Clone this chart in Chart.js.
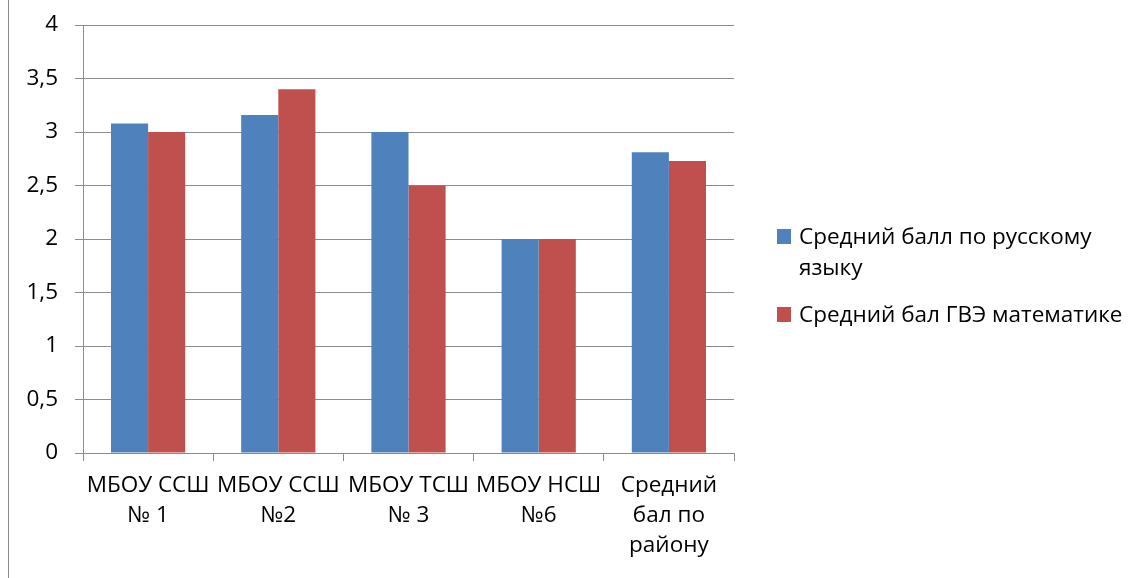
<!DOCTYPE html>
<html>
<head>
<meta charset="utf-8" />
<title>Средний балл</title>
<script src="https://cdn.jsdelivr.net/npm/chart.js"></script>
<style>
	html, body { margin: 0; padding: 0; background: #fff; }
	#wrap { position: relative; width: 1135px; height: 578px; }
	#frame { position: absolute; left: 8px; top: 0; width: 1px; height: 578px; background: #8c8c8c; }
	#legend { position: absolute; left: 777px; top: 220px; font-family: "Open Sans", sans-serif; font-size: 22.5px; color: #000; }
	#legend .item { position: relative; padding-left: 22px; line-height: 31px; margin-bottom: 16px; }
	#legend .box { position: absolute; left: 0; top: 9px; width: 14px; height: 15px; }
</style>
</head>
<body>
<div id="wrap">
	<canvas id="chart" width="1135" height="578"></canvas>
	<div id="frame"></div>
	<div id="legend"></div>
</div>
<script>
	const categories = [
		["МБОУ ССШ", "№ 1"],
		["МБОУ ССШ", "№2"],
		["МБОУ ТСШ", "№ 3"],
		["МБОУ НСШ", "№6"],
		["Средний", "бал по", "району"]
	];
	const russianScores = [3.08, 3.16, 3.0, 2.0, 2.81];
	const mathScores = [3.0, 3.4, 2.5, 2.0, 2.73];
	const seriesNames = ["Средний балл по русскому языку", "Средний бал ГВЭ математике"];
	const seriesColors = ["#4F81BD", "#C0504D"];

	const gridColor = "#8c8c8c";
	const font = { family: "'Open Sans', sans-serif", size: 22.5 };

	// legend in html, so the first entry can wrap onto two lines
	const legend = document.getElementById("legend");
	seriesNames.forEach(function (name, i) {
		const item = document.createElement("div");
		item.className = "item";
		item.style.width = i === 0 ? "335px" : "380px";
		item.innerHTML = '<span class="box" style="background:' + seriesColors[i] + '"></span>' + name;
		legend.appendChild(item);
	});

	new Chart(document.getElementById("chart"), {
		type: "bar",
		data: {
			labels: categories,
			datasets: [
				{ label: seriesNames[0], data: russianScores, backgroundColor: seriesColors[0] },
				{ label: seriesNames[1], data: mathScores, backgroundColor: seriesColors[1] }
			]
		},
		options: {
			responsive: false,
			animation: false,
			layout: { padding: { top: 25, right: 401, left: 0, bottom: 0 } },
			datasets: { bar: { categoryPercentage: 0.57, barPercentage: 1.0 } },
			plugins: { legend: { display: false }, tooltip: { enabled: false } },
			scales: {
				x: {
					offset: true,
					grid: { offset: true, drawOnChartArea: false, color: gridColor, tickLength: 8 },
					border: { color: gridColor },
					ticks: { color: "#000", font: Object.assign({ lineHeight: 1.33 }, font), maxRotation: 0, autoSkip: false, padding: 10 },
					afterFit: function (scale) { scale.height = 125; }
				},
				y: {
					min: 0,
					max: 4,
					grid: { color: gridColor, tickLength: 8 },
					border: { color: gridColor },
					ticks: {
						stepSize: 0.5,
						color: "#000",
						font: font,
						padding: 17,
						callback: function (v) { return String(v).replace(".", ","); }
					},
					afterFit: function (scale) {
						scale.width = 83;
						// tick padding is only meant for the horizontal gap
						scale.paddingTop = 0;
						scale.paddingBottom = 0;
					}
				}
			}
		}
	});
</script>
</body>
</html>
